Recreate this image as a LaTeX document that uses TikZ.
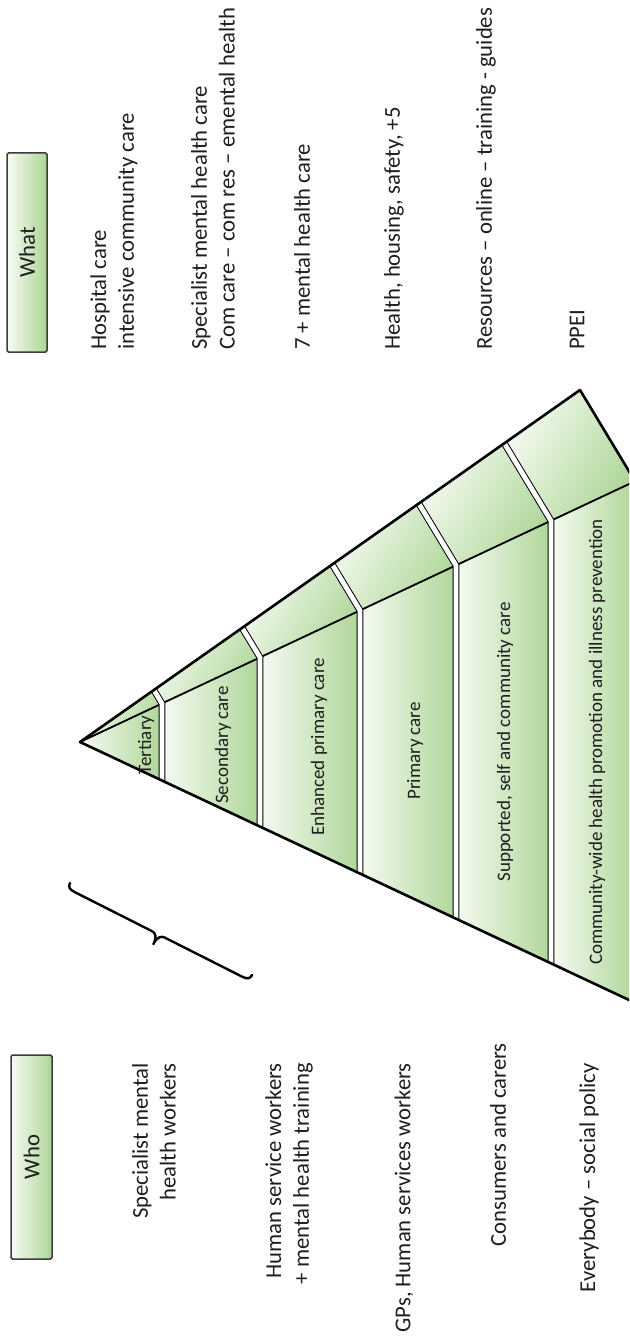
\documentclass[tikz,border=0pt]{standalone}
\usepackage{fontspec}
\setmainfont{Carlito}
\usetikzlibrary{calc}
\definecolor{pgreen}{RGB}{174,214,151}
\definecolor{plight}{RGB}{246,251,243}
\definecolor{txt}{RGB}{30,30,30}
\definecolor{boxline}{RGB}{60,60,60}
\begin{document}
\begin{tikzpicture}[x=1pt,y=-1pt,
  outtext/.style={rotate=90, font=\fontsize{22.7}{27.7}\selectfont, text=txt, inner sep=0pt},
  lab/.style={rotate=90, font=\fontsize{19}{23}\selectfont, text=txt, inner sep=0pt},
  hdrborder/.style={draw=boxline, line width=1.5pt, rounded corners=1.5pt},
  hdrtext/.style={rotate=90, font=\fontsize{22.7}{27.7}\selectfont, text=txt, inner sep=0pt},
  slice/.style={left color=plight, right color=pgreen, draw=black, line width=0.8pt},
  pedge/.style={draw=black, line width=2.6pt, line cap=round, line join=round},
  inedge/.style={draw=black, line width=1.8pt},
  divider/.style={draw=black, line width=1pt, double=white, double distance=4.8pt, shorten <=-8pt, shorten >=-8pt},
  bracestyle/.style={draw=black, line width=2.4pt, line cap=round, line join=round}
]
\useasboundingbox (0,0) rectangle (629,1337);
\clip (0,0) rectangle (629,1337);

% pyramid geometry
\coordinate (A) at (80,742);
\coordinate (C) at (580,390);
\coordinate (FT) at (635,481.2);
\coordinate (FB) at (635,1002.8);
\coordinate (I0) at (A); \coordinate (B0) at (A); \coordinate (O0) at (A);
\coordinate (I6) at (FT); \coordinate (B6) at (FB); \coordinate (O6) at (C);
\foreach \t [count=\i] in {0.1477,0.3243,0.5045,0.6775,0.8486}{
  \coordinate (I\i) at ($(A)!\t!(FT)$);
  \coordinate (B\i) at ($(A)!\t!(FB)$);
  \coordinate (O\i) at ($(A)!\t!(C)$);
}
\foreach \i in {1,...,6}{
  \pgfmathtruncatemacro{\j}{\i-1}
  \path[slice] (B\j) -- (I\j) -- (I\i) -- (B\i) -- cycle;
  \path[slice, shading angle=60] (I\j) -- (O\j) -- (O\i) -- (I\i) -- cycle;
}
\draw[inedge] (A) -- (FT);
\begin{scope}
  \clip (A) -- (C) -- (FT) -- (FB) -- cycle;
  \foreach \i in {1,...,5}{
    \draw[divider] (O\i) -- (I\i) -- (B\i);
  }
\end{scope}
\draw[pedge] (A) -- (C) -- (FT);
\draw[pedge] (A) -- (FB);

% labels in the pyramid
\node[lab] (l1) at (146,745) {Tertiary};
\node[lab] (l2) at (223,745) {Secondary care};
\node[lab] (l3) at (319,747) {Enhanced primary care};
\node[lab] (l4) at (415,751) {Primary care};
\node[lab] (l5) at (505,742) {Supported, self and community care};
\node[lab] (l6) at (597,742) {Community-wide health promotion and illness prevention};

% brace
\begin{scope}[shift={(70,883)}, rotate=-26.8]
  \draw[bracestyle] (0,0) .. controls (0,4) and (2,6) .. (8,6) -- (95,6)
    .. controls (99,6) and (102,9) .. (102,17)
    .. controls (102,9) and (105,6) .. (109,6) -- (196,6)
    .. controls (202,6) and (204,4) .. (204,0);
\end{scope}

% headers: horizontal gradient built from thin strips
\foreach \bx/\by/\bw/\bh in {7/153/40/199, 11/1055/41/204}{
  \begin{scope}
    \clip[rounded corners=1.5pt] (\bx,\by) rectangle ++(\bw,\bh);
    \foreach \k in {0,...,19}{
      \pgfmathtruncatemacro{\p}{\k*100/19}
      \fill[pgreen!\p!plight] ({\bx+\k*\bw/20},\by) rectangle ++({\bw/20+0.4},\bh);
    }
  \end{scope}
  \path[hdrborder] (\bx,\by) rectangle ++(\bw,\bh);
}
\node[hdrtext] (whatlabel) at (27,252.5) {What};
\node[hdrtext] (wholabel) at (31.5,1157) {Who};

% what texts
\node[outtext, anchor=west, align=left] (w1) at (114,350) {Hospital care\\intensive community care};
\node[outtext, anchor=west, align=left] (w2) at (213,350) {Specialist mental health care\\Com care -- com res -- emental health};
\node[outtext, anchor=west, align=left] (w3) at (302,350) {7 + mental health care};
\node[outtext, anchor=west, align=left] (w4) at (394,350) {Health, housing, safety, +5};
\node[outtext, anchor=west, align=left] (w5) at (486,350) {Resources -- online -- training - guides};
\node[outtext, anchor=west, align=left] (w6) at (577,350) {PPEI};

% who texts
\node[outtext, anchor=east, align=right] (h1) at (154,1063) {Specialist mental\\health workers};
\node[outtext, anchor=east, align=right] (h2) at (289,1063) {Human service workers\\+ mental health training};
\node[outtext, anchor=east, align=right] (h3) at (404,1063) {GPs, Human services workers};
\node[outtext, anchor=east, align=right] (h4) at (498,1043) {Consumers and carers};
\node[outtext, anchor=east, align=right] (h5) at (589,1063) {Everybody -- social policy};
\end{tikzpicture}
\end{document}
